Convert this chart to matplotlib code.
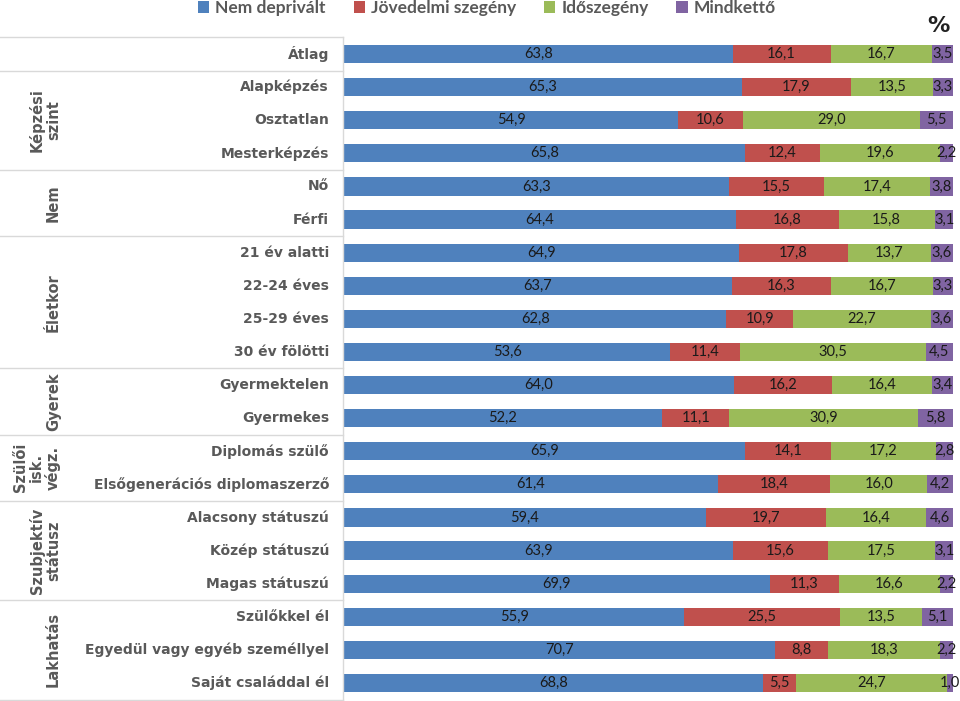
import matplotlib
matplotlib.use("Agg")
import matplotlib.pyplot as plt
from matplotlib.transforms import blended_transform_factory
from matplotlib.lines import Line2D

categories = ["Átlag", "Alapképzés", "Osztatlan", "Mesterképzés", "Nő", "Férfi",
              "21 év alatti", "22-24 éves", "25-29 éves", "30 év fölötti",
              "Gyermektelen", "Gyermekes", "Diplomás szülő", "Elsőgenerációs diplomaszerző",
              "Alacsony státuszú", "Közép státuszú", "Magas státuszú",
              "Szülőkkel él", "Egyedül vagy egyéb személlyel", "Saját családdal él"]

nem_deprivalt = [63.8, 65.3, 54.9, 65.8, 63.3, 64.4, 64.9, 63.7, 62.8, 53.6,
                 64.0, 52.2, 65.9, 61.4, 59.4, 63.9, 69.9, 55.9, 70.7, 68.8]
jovedelmi = [16.1, 17.9, 10.6, 12.4, 15.5, 16.8, 17.8, 16.3, 10.9, 11.4,
             16.2, 11.1, 14.1, 18.4, 19.7, 15.6, 11.3, 25.5, 8.8, 5.5]
idoszegeny = [16.7, 13.5, 29.0, 19.6, 17.4, 15.8, 13.7, 16.7, 22.7, 30.5,
              16.4, 30.9, 17.2, 16.0, 16.4, 17.5, 16.6, 13.5, 18.3, 24.7]
mindketto = [3.5, 3.3, 5.5, 2.2, 3.8, 3.1, 3.6, 3.3, 3.6, 4.5,
             3.4, 5.8, 2.8, 4.2, 4.6, 3.1, 2.2, 5.1, 2.2, 1.0]

series_names = ["Nem deprivált", "Jövedelmi szegény", "Időszegény", "Mindkettő"]
colors = ["#4F81BD", "#C0504D", "#9BBB59", "#8064A2"]

# groups: label, first row, last row
groups = [("", 0, 0), ("Képzési\nszint", 1, 3), ("Nem", 4, 5), ("Életkor", 6, 9),
          ("Gyerek", 10, 11), ("Szülői\nisk.\nvégz.", 12, 13),
          ("Szubjektív\nstátusz", 14, 16), ("Lakhatás", 17, 19)]

grey = "#595959"

fig = plt.figure(figsize=(9.6, 7.01), dpi=100)
H = 701
ax = fig.add_axes([344 / 960, 1 - 699.5 / H, 609 / 960, 662 / H])

series = [nem_deprivalt, jovedelmi, idoszegeny, mindketto]
ypos = list(range(len(categories)))
left = [0.0] * len(categories)
for vals, col, name in zip(series, colors, series_names):
    bars = ax.barh(ypos, vals, left=left, height=0.55, color=col, label=name)
    for b, v in zip(bars, vals):
        ax.text(b.get_x() + b.get_width() / 2, b.get_y() + b.get_height() / 2,
                f"{v:.1f}".replace(".", ","), ha="center", va="center",
                fontsize=10.5, family="Lato", color="#1a1a1a", clip_on=False)
    left = [l + v for l, v in zip(left, vals)]

ax.set_xlim(0, 100)
ax.set_ylim(len(categories) - 0.5, -0.5)
ax.axis("off")

# category labels
tr = blended_transform_factory(fig.transFigure, ax.transData)
for i, c in enumerate(categories):
    ax.text(329 / 960, i, c, transform=tr, ha="right", va="center",
            fontsize=10, fontweight="bold", color=grey, family="DejaVu Sans")

# table lines
line_col = "#D9D9D9"
for g in groups:
    y = g[1] - 0.5
    ax.add_line(Line2D([0, 343 / 960], [y, y], transform=tr, color=line_col,
                       lw=1, clip_on=False))
ax.add_line(Line2D([0, 343 / 960], [19.5, 19.5], transform=tr, color=line_col,
                   lw=1, clip_on=False))
ax.add_line(Line2D([343 / 960, 343 / 960], [-0.5, 19.5], transform=tr, color=line_col,
                   lw=1, clip_on=False))

# group labels
for name, a, b in groups:
    if name:
        ax.text(61 / 960, (a + b) / 2, name, transform=tr, rotation=90,
                ha="right", va="center", multialignment="center",
                fontsize=10.5, fontweight="bold", color=grey, family="DejaVu Sans",
                linespacing=1.1)

fig.legend(loc="upper center", bbox_to_anchor=(487 / 960, 1.022), ncol=4,
           frameon=False, handlelength=0.65, handleheight=0.65, handletextpad=0.35,
           columnspacing=1.6, prop={"family": "Lato", "size": 12.5, "weight": "bold"},
           labelcolor=grey)

fig.text(938 / 960, 1 - 26 / H, "%", ha="center", va="center", fontsize=16,
         fontweight="bold", color="#222222")

fig.savefig("out.png", dpi=100)
